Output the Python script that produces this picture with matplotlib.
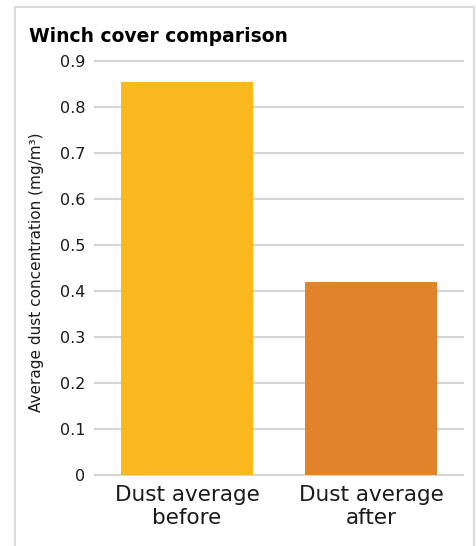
import matplotlib.pyplot as plt
from matplotlib.patches import Rectangle

# -----------------------------
# Data
# -----------------------------
categories = ['Dust average\nbefore', 'Dust average\nafter']
values = [0.855, 0.42]
yticks = [0, 0.1, 0.2, 0.3, 0.4, 0.5, 0.6, 0.7, 0.8, 0.9]
ytick_labels = ['0', '0.1', '0.2', '0.3', '0.4', '0.5', '0.6', '0.7', '0.8', '0.9']

colors = ['#FBB81E', '#E0832A']
grid_color = '#D5D5D5'
text_color = '#1a1a1a'

plt.rcParams['font.family'] = ['DejaVu Sans']


def main():
    fig = plt.figure(figsize=(4.76, 5.46), dpi=100)
    ax = fig.add_axes([95 / 476, 71 / 546, 368 / 476, 414 / 546])

    # outer frame
    fig.patches.append(Rectangle((15 / 476, -0.05), 459 / 476, 1 - 7 / 546 + 0.05,
                                 transform=fig.transFigure, fill=False,
                                 edgecolor='#DADADA', linewidth=1.5))

    x = range(len(values))
    ax.bar(x, values, width=0.72, color=colors, zorder=3)

    ax.set_xlim(-0.5, 1.5)
    ax.set_ylim(0, 0.9)
    ax.set_yticks(yticks)
    ax.set_yticklabels(ytick_labels)
    ax.set_xticks(list(x))
    ax.set_xticklabels(categories, fontsize=15.5, linespacing=1.2)

    ax.tick_params(axis='y', length=0, pad=7, labelsize=11.5, colors=text_color)
    ax.tick_params(axis='x', length=0, pad=7, colors=text_color)

    ax.yaxis.grid(True, color=grid_color, linewidth=1.5, zorder=0)
    for line in ax.get_ygridlines():
        line.set_clip_on(False)
    ax.set_axisbelow(True)
    for s in ax.spines.values():
        s.set_visible(False)

    fig.text(29 / 476, 1 - 42 / 546, 'Winch cover comparison', fontsize=13.5,
             fontweight='bold', color='black', ha='left', va='baseline')
    fig.text(37 / 476, (546 - 272) / 546, 'Average dust concentration (mg/m³)',
             rotation=90, fontsize=11, color=text_color, ha='center', va='center')

    fig.savefig('out.png', dpi=100)


if __name__ == "__main__":
    main()
